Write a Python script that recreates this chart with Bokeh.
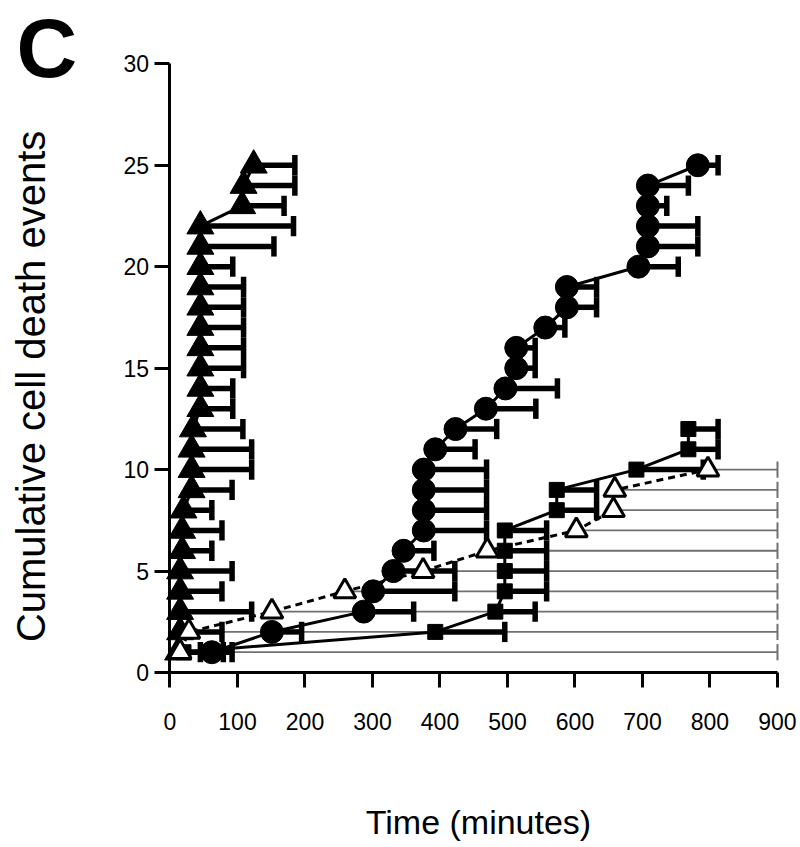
from bokeh.plotting import figure
from bokeh.models import Range1d, FixedTicker, Label, ColumnDataSource
from bokeh.embed import file_html
from bokeh.resources import INLINE

# ---------------- data ----------------
# filled triangles
tri_events = list(range(1, 26))
tri_time = [12, 15, 15, 15, 15, 18, 18, 20, 32, 32, 32, 34, 45, 45, 45,
            45, 45, 45, 45, 45, 45, 45, 107, 109, 124]
tri_end = [45, 77, 121, 77, 92, 62, 77, 62, 92, 121, 121, 108, 93, 93, 109,
           109, 109, 109, 109, 93, 154, 183, 169, 185, 185]

# filled circles
circ_events = list(range(1, 26))
circ_time = [62, 151, 287, 301, 331, 346, 376, 376, 376, 376, 393, 423, 468,
             497, 513, 513, 556, 588, 588, 694, 708, 708, 708, 708, 782]
circ_end = [92, 195, 361, 422, 422, 391, 469, 469, 469, 469, 452, 484, 542,
            574, 541, 541, 585, 632, 632, 753, 782, 782, 736, 768, 812]

# filled squares
sq_events = list(range(1, 13))
sq_time = [20, 393, 482, 496, 496, 496, 496, 573, 573, 691, 768, 768]
sq_end = [79, 496, 541, 558, 558, 558, 558, 632, 632, 790, 812, 812]

# open triangles
open_events = list(range(1, 11))
open_time = [15, 28, 151, 259, 375, 470, 602, 657, 659, 797]
open_end = [900] * 10

x_ticks = [0, 100, 200, 300, 400, 500, 600, 700, 800, 900]
y_ticks = [0, 5, 10, 15, 20, 25, 30]

CAP = 0.5          # half height of an error-bar cap (style)
OPEN_CAP = 0.4

FONT = "Liberation Sans"

# the frame fills the whole canvas; axes are pinned at x=0 / y=0
p = figure(width=800, height=847, output_backend="svg", toolbar_location=None,
           x_range=Range1d(-251.1, 934.1), y_range=Range1d(-8.625, 33.12),
           min_border=0)
p.outline_line_color = None
p.grid.visible = False
p.background_fill_color = "white"
p.border_fill_color = "white"

for ax in (p.xaxis[0], p.yaxis[0]):
    ax.axis_line_width = 3
    ax.major_tick_line_width = 3
    ax.major_tick_out = 15
    ax.major_tick_in = 0
    ax.minor_tick_line_color = None
    ax.major_label_text_font = FONT
    ax.major_label_text_font_size = "23px"
    ax.major_label_text_color = "black"
    ax.axis_line_color = "black"
    ax.major_tick_line_color = "black"
    ax.fixed_location = 0

p.xaxis.bounds = (0, 900)
p.yaxis.bounds = (0, 30)
p.xaxis.ticker = FixedTicker(ticks=x_ticks)
p.yaxis.ticker = FixedTicker(ticks=y_ticks)
p.xaxis.major_label_overrides = {t: str(t) for t in x_ticks}
p.yaxis.major_label_overrides = {t: str(t) for t in y_ticks}
p.xaxis.major_label_standoff = 25
p.yaxis.major_label_standoff = 6

# ---------- open-triangle series: thin gray bars to the end ----------
os_ = ColumnDataSource(dict(x=open_time, y=open_events, end=open_end,
                            lo=[v - OPEN_CAP for v in open_events],
                            hi=[v + OPEN_CAP for v in open_events]))
p.segment(x0="x", y0="y", x1="end", y1="y", source=os_,
          line_color="#707070", line_width=1.8)
p.segment(x0="end", y0="lo", x1="end", y1="hi", source=os_,
          line_color="#707070", line_width=2)

# ---------- black error bars ----------
def bars(times, events, ends):
    src = ColumnDataSource(dict(x=times, y=events, end=ends,
                                lo=[v - CAP for v in events],
                                hi=[v + CAP for v in events]))
    p.segment(x0="x", y0="y", x1="end", y1="y", source=src,
              line_color="black", line_width=5.5, line_cap="butt")
    p.segment(x0="end", y0="lo", x1="end", y1="hi", source=src,
              line_color="black", line_width=5.5, line_cap="butt")

bars(tri_time, tri_events, tri_end)
bars(circ_time, circ_events, circ_end)
bars(sq_time, sq_events, sq_end)

# ---------- connecting lines ----------
p.line(open_time, open_events, line_color="black", line_width=3, line_dash="7 5")
p.line(tri_time, tri_events, line_color="black", line_width=3)
p.line(circ_time, circ_events, line_color="black", line_width=3)
p.line(sq_time, sq_events, line_color="black", line_width=3)

# ---------- markers ----------
p.scatter(sq_time, sq_events, marker="square", size=15,
          fill_color="black", line_color="black")
p.scatter(circ_time, circ_events, marker="circle", size=23,
          fill_color="black", line_color="black")
p.scatter(tri_time, tri_events, marker="triangle", size=27,
          fill_color="black", line_color="black")
p.scatter(open_time, open_events, marker="triangle", size=22,
          fill_color="white", line_color="black", line_width=3)

# ---------- texts ----------
p.add_layout(Label(x=457, y=-7.39, text="Time (minutes)", text_align="center",
                   text_baseline="middle", text_font=FONT,
                   text_font_size="34px", text_color="black"))
p.add_layout(Label(x=-205.2, y=14.10, text="Cumulative cell death events",
                   angle=1.5707963, text_align="center", text_baseline="middle",
                   text_font=FONT, text_font_size="40px", text_color="black"))
p.add_layout(Label(x=-227.4, y=30.80, text="C", text_align="left",
                   text_baseline="middle", text_font=FONT,
                   text_font_style="bold", text_font_size="84px",
                   text_color="black"))

open("out.html", "w").write(file_html(p, INLINE))
